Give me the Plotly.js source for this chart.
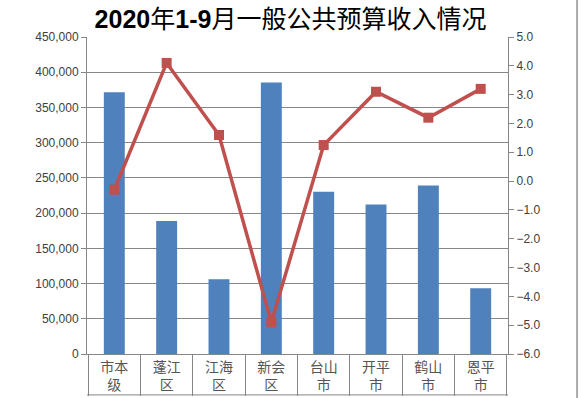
<!DOCTYPE html>
<html>
<head>
<meta charset="utf-8">
<script src="https://cdn.plot.ly/plotly-3.0.1.min.js"></script>
<style>html,body{margin:0;padding:0;background:#fff;}#chart{width:581px;height:398px;}</style>
</head>
<body>
<div id="chart"></div>
<script>
var categories = ["市本<br>级", "蓬江<br>区", "江海<br>区", "新会<br>区", "台山<br>市", "开平<br>市", "鹤山<br>市", "恩平<br>市"];
var revenue = [371700, 188900, 106100, 385400, 230500, 212100, 239100, 93300];
var growth = [-0.3, 4.1, 1.6, -4.9, 1.25, 3.1, 2.2, 3.2];
var leftTicks = [0, 50000, 100000, 150000, 200000, 250000, 300000, 350000, 400000, 450000];

var numFont = {family: "Liberation Sans, Arial, sans-serif", size: 12, color: "#404040"};

var traces = [
  {type: "bar", x: categories, y: revenue, marker: {color: "#4F81BD"}, yaxis: "y", hoverinfo: "skip"},
  {type: "scatter", mode: "lines+markers", x: categories, y: growth, yaxis: "y2",
   line: {color: "#C0504D", width: 3.5}, marker: {symbol: "square", size: 10, color: "#C0504D"}, hoverinfo: "skip"}
];

var layout = {
  width: 581, height: 398,
  margin: {l: 87, r: 73, t: 37, b: 44},
  paper_bgcolor: "#fff", plot_bgcolor: "#fff",
  showlegend: false,
  bargap: 0.6,
  title: {text: "<b>2020</b>年<b>1-9</b>月一般公共预算收入情况", x: 0.5, xanchor: "center", y: 0.952, yanchor: "middle",
    font: {family: "Liberation Sans, Noto Sans CJK SC, sans-serif", size: 25, color: "#000"}},
  xaxis: {
    type: "category", tickson: "boundaries", ticks: "outside", ticklen: 41, tickcolor: "#868686",
    showline: true, linecolor: "#868686", linewidth: 1, showgrid: false,
    tickfont: {family: "Noto Sans CJK SC, sans-serif", size: 14, color: "#555"}
  },
  yaxis: {
    range: [0, 450000], tickvals: leftTicks, tickformat: ",", ticks: "outside", ticklen: 5, tickcolor: "#868686",
    showline: true, linecolor: "#868686", showgrid: true, gridcolor: "#868686", gridwidth: 1, zeroline: false,
    tickfont: numFont, fixedrange: true
  },
  yaxis2: {
    overlaying: "y", side: "right", range: [-6, 5], dtick: 1, tick0: 0, tickformat: ".1f",
    ticks: "outside", ticklen: 5, tickcolor: "#868686", showline: true, linecolor: "#868686",
    showgrid: false, zeroline: false, tickfont: numFont
  },
  shapes: [
    {type: "line", xref: "paper", yref: "paper", x0: 0, x1: 1, y0: -0.129, y1: -0.129, line: {color: "#868686", width: 1}},
    {type: "line", xref: "paper", yref: "paper", x0: 1.164, x1: 1.164, y0: -0.2, y1: 1.2, line: {color: "#AAAAAA", width: 2}}
  ]
};

Plotly.newPlot("chart", traces, layout, {displayModeBar: false, staticPlot: true});
</script>
</body>
</html>
